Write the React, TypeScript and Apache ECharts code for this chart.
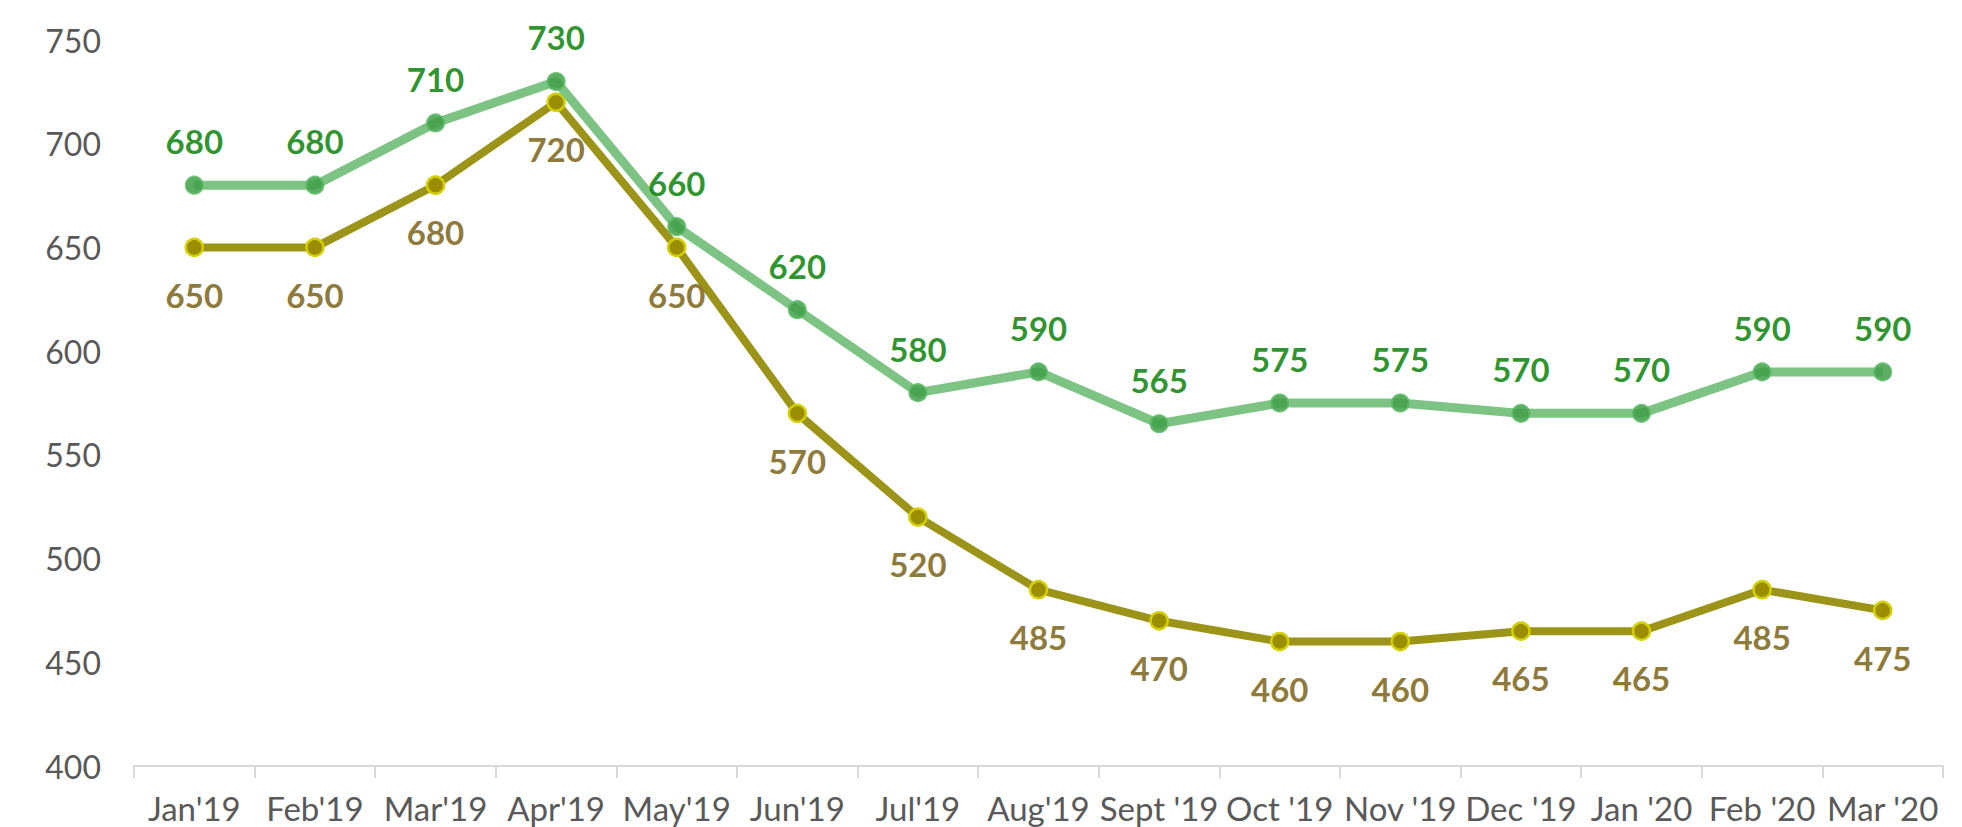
import React, { useEffect, useRef } from "react";
import * as echarts from "echarts";

const categories = [
  "Jan'19", "Feb'19", "Mar'19", "Apr'19", "May'19", "Jun'19", "Jul'19", "Aug'19",
  "Sept '19", "Oct '19", "Nov '19", "Dec '19", "Jan '20", "Feb '20", "Mar '20",
];
const greenValues = [680, 680, 710, 730, 660, 620, 580, 590, 565, 575, 575, 570, 570, 590, 590];
const oliveValues = [650, 650, 680, 720, 650, 570, 520, 485, 470, 460, 460, 465, 465, 485, 475];
const yMin = 400;
const yMax = 750;
const yInterval = 50;

const FONT = "Lato, 'Open Sans', sans-serif";

export default function App() {
  const ref = useRef<HTMLDivElement>(null);
  useEffect(() => {
    if (!ref.current) return;
    const chart = echarts.init(ref.current, undefined, { renderer: "svg" });
    chart.setOption({
      animation: false,
      backgroundColor: "#ffffff",
      grid: { left: 134, right: 19, top: 40, bottom: 61, containLabel: false },
      xAxis: {
        type: "category",
        data: categories,
        boundaryGap: true,
        axisLine: { lineStyle: { color: "#d9d9d9", width: 2 } },
        axisTick: { show: true, length: 12, lineStyle: { color: "#d9d9d9", width: 2 } },
        axisLabel: { color: "#595959", fontSize: 33, lineHeight: 33, fontFamily: FONT, margin: 25, interval: 0 },
        splitLine: { show: false },
      },
      yAxis: {
        type: "value",
        min: yMin,
        max: yMax,
        interval: yInterval,
        axisLine: { show: false },
        axisTick: { show: false },
        splitLine: { show: false },
        axisLabel: { color: "#595959", fontSize: 32, fontFamily: FONT, margin: 33 },
      },
      series: [
        {
          name: "Olive",
          type: "line",
          data: oliveValues,
          symbol: "circle",
          symbolSize: 17,
          lineStyle: { color: "#9c9418", width: 8 },
          itemStyle: { color: "#9a8e00", borderColor: "#d4d000", borderWidth: 2.5 },
          label: {
            show: true,
            position: "bottom",
            distance: 21,
            color: "#8e7b3b",
            fontSize: 33,
            fontWeight: "bold",
            fontFamily: FONT,
          },
          z: 2,
        },
        {
          name: "Green",
          type: "line",
          data: greenValues,
          symbol: "circle",
          symbolSize: 17,
          lineStyle: { color: "#7dc383", width: 9 },
          itemStyle: { color: "#3f9f48", borderColor: "#5cb865", borderWidth: 2, opacity: 0.85 },
          label: {
            show: true,
            position: "top",
            distance: 18,
            color: "#0a820a",
            fontSize: 33,
            fontWeight: "bold",
            fontFamily: FONT,
          },
          z: 3,
        },
      ],
    });
    return () => chart.dispose();
  }, []);
  return (
    <div
      ref={ref}
      style={{ position: "fixed", left: 0, top: 0, width: 1962, height: 827, background: "#fff" }}
    />
  );
}
